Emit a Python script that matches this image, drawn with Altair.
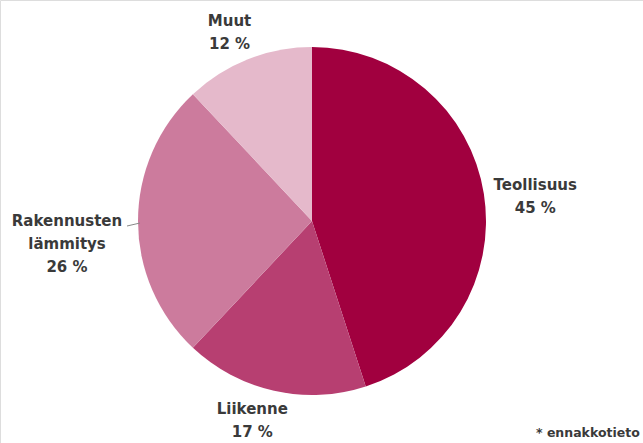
import altair as alt
import pandas as pd

categories = ["Teollisuus", "Liikenne", "Rakennusten\nlämmitys", "Muut"]
values = [45, 17, 26, 12]
colors = ["#a1003f", "#b73f71", "#cc7b9d", "#e5b9cb"]
order = [0, 1, 2, 3]

df = pd.DataFrame({"cat": categories, "value": values, "ord": order})

CX, CY, R = 312, 221, 174
FONT = "DejaVu Sans"

base = alt.Chart(df)

pie = base.mark_arc(outerRadius=R, stroke=None).encode(
    theta=alt.Theta("value:Q", stack=True, scale=alt.Scale(domain=[0, 100], range=[0, 6.283185307])),
    order=alt.Order("ord:Q"),
    color=alt.Color("cat:N", scale=alt.Scale(domain=categories, range=colors), legend=None),
    x=alt.value(CX),
    y=alt.value(CY),
)

labelled = base.transform_window(
    cum="sum(value)", sort=[alt.SortField("ord")], frame=[None, 0]
).transform_calculate(
    mid="datum.cum - datum.value / 2",
    txt="datum.cat + '\\n' + datum.value + ' %'",
)

# per-label radius and fine offsets
placements = {
    "Teollisuus": (222, 4, -1),
    "Liikenne": (205, -15, -12),
    "Rakennusten\nlämmitys": (245, 0, 0),
    "Muut": (205, -7, -9),
}

label_layers = []
for c in categories:
    r, dx, dy = placements[c]
    label_layers.append(
        labelled.transform_filter(alt.datum.cat == c).mark_text(
            radius=r, dx=dx, dy=dy, font=FONT, fontSize=15, fontWeight="bold",
            color="#3a3a3a", lineBreak="\n", lineHeight=23, align="center", baseline="middle",
        ).encode(
            theta=alt.Theta("mid:Q", scale=alt.Scale(domain=[0, 100], range=[0, 6.283185307])),
            text="txt:N",
            x=alt.value(CX),
            y=alt.value(CY),
        )
    )

leader = alt.Chart(pd.DataFrame({"a": [0]})).mark_rule(color="#888888", strokeWidth=1).encode(
    x=alt.value(127), x2=alt.value(140), y=alt.value(226), y2=alt.value(223)
)

foot = alt.Chart(pd.DataFrame({"t": ["* ennakkotieto"]})).mark_text(
    font=FONT, fontSize=12.5, fontWeight="bold", color="#3a3a3a", align="left", baseline="middle"
).encode(text="t:N", x=alt.value(536), y=alt.value(433))

chart = alt.layer(pie, *label_layers, leader, foot).properties(
    width=643, height=443, autosize=alt.AutoSizeParams(type="none"), padding=0
).configure_view(stroke=None).configure(background="white")

chart.save("out.html", embed_options={"renderer": "svg", "actions": False})
